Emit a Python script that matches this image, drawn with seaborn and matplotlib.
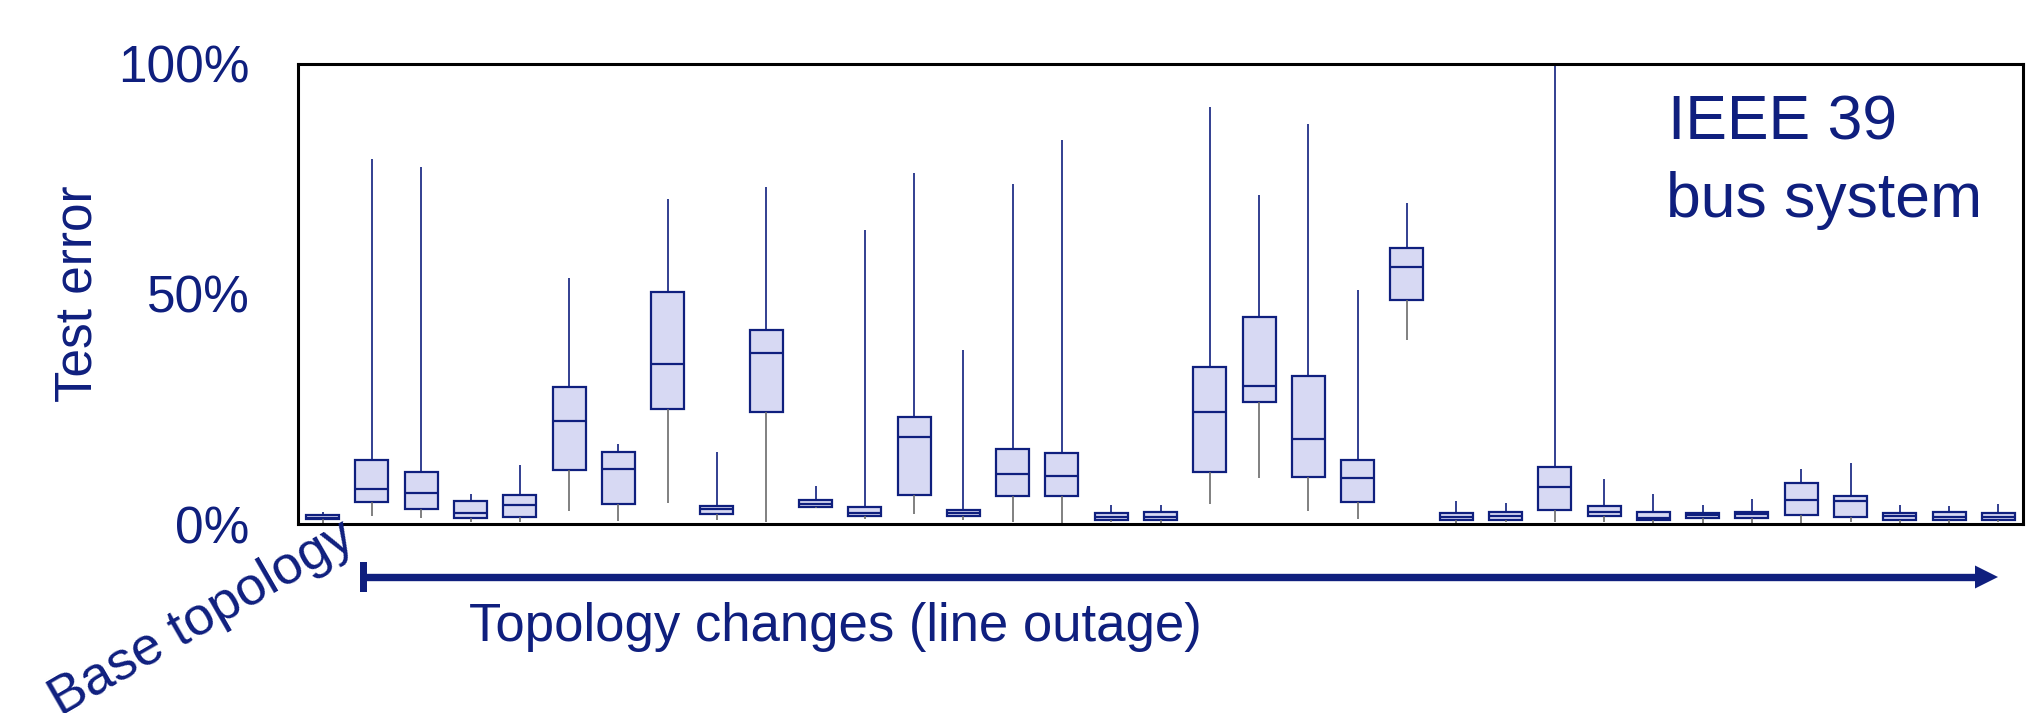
import numpy as np
import pandas as pd
import matplotlib
matplotlib.use("Agg")
import matplotlib.pyplot as plt
from matplotlib.lines import Line2D
from matplotlib.patches import Polygon, Rectangle
import seaborn as sns

# ---- data (test error in %) ----
cases = ["Base"] + [f"Outage {i}" for i in range(1, 35)]
whis_lo = [0.0, 1.7, 1.2, 0.4, 0.4, 2.8, 0.7, 4.6, 0.8, 0.4, 3.4, 1.0, 2.2, 0.9, 0.4, 0.1,
           0.4, 0.3, 4.3, 10.1, 2.9, 1.1, 40.1, 0.3, 0.4, 0.5, 0.5, 0.3, 0.3, 0.3, 0.3, 0.4,
           0.3, 0.3, 0.4]
q1 = [1.0, 4.8, 3.3, 1.3, 1.5, 11.8, 4.4, 25.1, 2.2, 24.4, 3.6, 1.7, 6.3, 1.7, 6.1, 6.1,
      0.9, 0.8, 11.4, 26.6, 10.3, 4.7, 48.7, 0.9, 0.9, 3.0, 1.8, 0.9, 1.2, 1.2, 2.0, 1.6,
      0.9, 0.8, 0.9]
median = [1.4, 7.6, 6.7, 2.5, 4.2, 22.4, 12.0, 34.7, 3.2, 37.2, 4.4, 2.4, 19.0, 2.5, 10.9, 10.5,
          1.6, 1.5, 24.4, 29.9, 18.5, 10.1, 55.8, 1.6, 1.7, 8.1, 2.7, 1.4, 1.9, 2.1, 5.2, 4.9,
          1.8, 1.5, 1.6]
q3 = [2.0, 13.9, 11.2, 5.0, 6.4, 29.7, 15.6, 50.4, 4.0, 42.1, 5.3, 3.6, 23.3, 3.1, 16.2, 15.5,
      2.5, 2.7, 34.2, 45.0, 32.2, 14.0, 60.1, 2.5, 2.6, 12.3, 4.0, 2.7, 2.4, 2.6, 8.9, 6.1,
      2.5, 2.7, 2.5]
whis_hi = [2.7, 79.3, 77.6, 6.5, 12.8, 53.4, 17.5, 70.7, 15.7, 73.2, 8.2, 63.9, 76.4, 37.9, 73.9, 83.5,
           4.2, 4.1, 90.7, 71.5, 87.0, 50.8, 69.8, 5.1, 4.5, 100.0, 9.8, 6.5, 4.1, 5.4, 11.9, 13.3,
           4.1, 3.9, 4.4]
yticks = [0, 50, 100]
ytick_labels = ["0%", "50%", "100%"]

NAVY = "#0f1f7e"
FILL = "#d7d9f3"
GREY = "#6b6b6b"

# five-number samples so that percentiles give exactly the box stats
rows = []
for c, a, b, m, d, e in zip(cases, whis_lo, q1, median, q3, whis_hi):
    for v in (a, b, m, d, e):
        rows.append({"case": c, "err": v})
df = pd.DataFrame(rows)

sns.set_style("white")
plt.rcParams["font.family"] = ["Liberation Sans", "DejaVu Sans"]

W, H = 2026, 713
fig = plt.figure(figsize=(W / 100, H / 100), dpi=100)
ax = fig.add_axes([298 / W, 1 - 524 / H, (2023 - 298) / W, (524 - 64) / H])

sns.boxplot(data=df, x="case", y="err", order=cases, whis=(0, 100), width=0.67,
            color=FILL, saturation=1, linecolor=NAVY, linewidth=1.6,
            showcaps=False, showfliers=False, ax=ax,
            whiskerprops=dict(linewidth=1.2))

for cont in ax.containers:
    ws = getattr(cont, "whiskers", [])
    for i, w in enumerate(ws):
        if i % 2 == 0:
            w.set_color(GREY)
            w.set_linewidth(1.2)

ax.set_xlim(-0.5, len(cases) - 0.5)
ax.set_ylim(0, 100)
ax.set_xticks([])
ax.set_yticks(yticks)
ax.set_yticklabels(ytick_labels, fontsize=37, color=NAVY)
ax.tick_params(axis="y", length=0, pad=35)
ax.set_xlabel("")
ax.set_ylabel("")
for s in ax.spines.values():
    s.set_visible(True)
    s.set_color("black")
    s.set_linewidth(2.2)

# texts (positions in figure pixels, origin bottom-left)
def px(x, y_from_top):
    return x / W, 1 - y_from_top / H

fig.text(*px(78, 294), "Test error", rotation=90, ha="center", va="center",
         fontsize=37, color=NAVY)
fig.text(*px(1668, 140), "IEEE 39", ha="left", va="baseline", fontsize=45, color=NAVY)
fig.text(*px(1666, 217), "bus system", ha="left", va="baseline", fontsize=45, color=NAVY)
fig.text(*px(469, 641), "Topology changes (line outage)", ha="left", va="baseline",
         fontsize=38, color=NAVY)
fig.text(*px(60, 716), "Base topology", ha="left", va="baseline", rotation=30,
         rotation_mode="anchor", fontsize=39, color=NAVY)

# arrow
yA = 577
fig.add_artist(Line2D([364 / W, 1978 / W], [1 - yA / H, 1 - yA / H],
                      transform=fig.transFigure, color=NAVY, linewidth=5.3,
                      solid_capstyle="butt"))
fig.add_artist(Polygon([px(1975, yA - 11.5), px(1998, yA), px(1975, yA + 11.5)],
                       closed=True, transform=fig.transFigure, facecolor=NAVY,
                       edgecolor="none"))
fig.add_artist(Rectangle(px(360, yA + 15), 7 / W, 30 / H, transform=fig.transFigure,
                         facecolor=NAVY, edgecolor="none"))

fig.savefig("out.png", dpi=100)
